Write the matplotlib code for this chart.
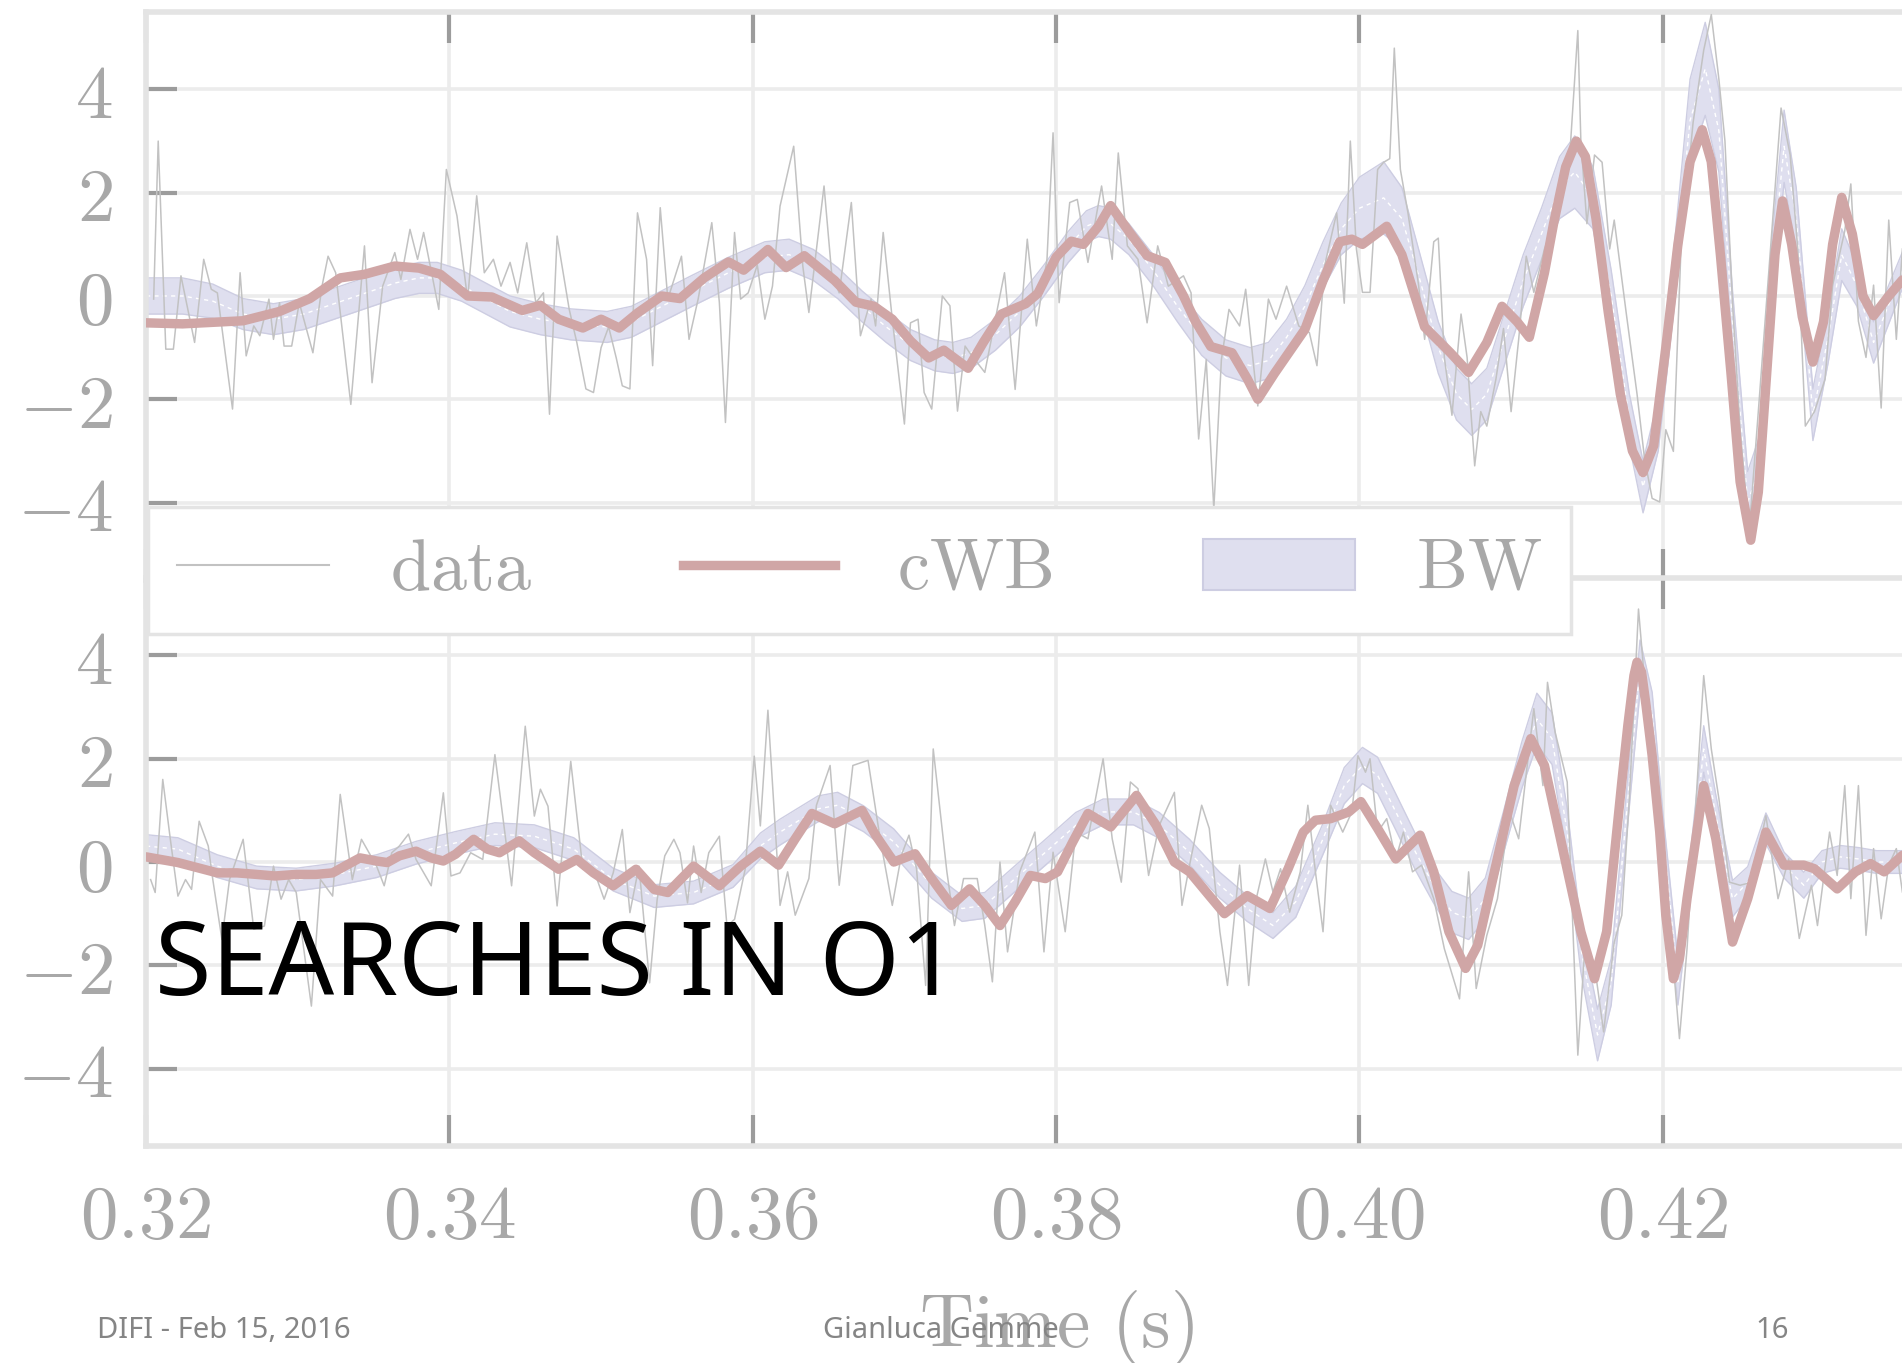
import matplotlib
matplotlib.use("Agg")
import matplotlib.pyplot as plt
from matplotlib.patches import Patch
from matplotlib.lines import Line2D

plt.rcParams["mathtext.fontset"] = "cm"

# ---------------- values ----------------
# (time [s], whitened strain) pairs

# upper detector: noisy data
top_data = [
    (0.3205, -0.06), (0.3208, 3.0), (0.3213, -1.03), (0.3218, -1.03), (0.3223, 0.39),
    (0.3232, -0.9), (0.3238, 0.71), (0.3243, 0.13), (0.3247, 0.06), (0.3257, -2.19),
    (0.3262, 0.45), (0.3266, -1.16), (0.3271, -0.58), (0.3275, -0.77), (0.3281, -0.06),
    (0.3284, -0.84), (0.3288, -0.13), (0.3291, -0.97), (0.3296, -0.97), (0.3301, -0.13),
    (0.3310, -1.10), (0.3316, 0.19), (0.3320, 0.77), (0.3325, 0.45), (0.3335, -2.10),
    (0.3344, 0.97), (0.3349, -1.68), (0.3356, 0.19), (0.3364, 0.84), (0.3368, 0.32),
    (0.3374, 1.29), (0.3379, 0.71), (0.3383, 1.23), (0.3393, -0.26), (0.3398, 2.45),
    (0.3405, 1.55), (0.3412, -0.06), (0.3418, 1.94), (0.3423, 0.45), (0.3429, 0.71),
    (0.3434, 0.19), (0.3440, 0.65), (0.3445, 0.06), (0.3451, 1.03), (0.3457, -0.13),
    (0.3462, 0.06), (0.3466, -2.29), (0.3471, 1.16), (0.3479, -0.26), (0.3484, -0.90),
    (0.3490, -1.80), (0.3495, -1.87), (0.3500, -1.0), (0.3505, -0.6), (0.3510, -1.2),
    (0.3514, -1.74), (0.3519, -1.80), (0.3524, 1.61), (0.3530, 0.71), (0.3534, -1.35),
    (0.3539, 1.71), (0.3544, -0.06), (0.3553, 0.77), (0.3558, -0.84), (0.3564, -0.06),
    (0.3573, 1.42), (0.3578, -0.13), (0.3582, -2.45), (0.3588, 1.23), (0.3592, -0.06),
    (0.3597, 0.06), (0.3603, 0.6), (0.3608, -0.45), (0.3613, 0.19), (0.3618, 1.74),
    (0.3627, 2.90), (0.3633, 0.58), (0.3637, -0.32), (0.3647, 2.13), (0.3652, 0.45),
    (0.3657, 0.06), (0.3665, 1.81), (0.3671, -0.77), (0.3678, -0.06), (0.3681, -0.58),
    (0.3686, 1.23), (0.3692, -0.45), (0.3700, -2.48), (0.3704, -0.52), (0.3709, -0.45),
    (0.3713, -1.87), (0.3718, -2.19), (0.3725, 0.0), (0.3730, -0.19), (0.3735, -2.23),
    (0.3740, -0.97), (0.3743, -1.10), (0.3753, -1.48), (0.3766, 0.45), (0.3773, -1.81),
    (0.3781, 1.10), (0.3787, -0.58), (0.3794, 0.71), (0.3798, 3.16), (0.3802, -0.13),
    (0.3809, 1.81), (0.3814, 1.87), (0.3821, 0.65), (0.3830, 2.13), (0.3837, 0.71),
    (0.3841, 2.77), (0.3847, 0.97), (0.3854, 0.71), (0.3860, -0.52), (0.3867, 0.97),
    (0.3874, 0.19), (0.3884, 0.39), (0.3889, 0.06), (0.3894, -2.77), (0.3899, -1.23),
    (0.3904, -4.13), (0.3909, -1.23), (0.3914, -0.26), (0.3921, -0.58), (0.3925, 0.13),
    (0.3933, -2.13), (0.3940, -0.06), (0.3945, -0.45), (0.3952, 0.19), (0.3960, -0.58),
    (0.3967, -0.71), (0.3972, -1.35), (0.3977, 0.58), (0.3985, 1.61), (0.3990, -0.14),
    (0.3994, 3.0), (0.3998, 0.91), (0.4002, 0.07), (0.4007, 0.07), (0.4012, 2.45),
    (0.4016, 2.59), (0.4020, 2.66), (0.4023, 4.8), (0.4027, 2.45), (0.4032, 1.61),
    (0.4039, 0.21), (0.4043, -0.84), (0.4049, 1.05), (0.4052, 1.12), (0.4056, -1.19),
    (0.4061, -2.31), (0.4067, -0.35), (0.4071, -1.19), (0.4076, -3.29), (0.4080, -2.24),
    (0.4084, -2.52), (0.4090, -1.61), (0.4095, -0.63), (0.4100, -2.24), (0.4105, -0.84),
    (0.4110, 0.77), (0.4115, 0.07), (0.4122, 0.91), (0.4132, 1.75), (0.4139, 2.87),
    (0.4144, 5.14), (0.4146, 3.0), (0.4150, 1.40), (0.4155, 2.73), (0.4160, 2.59),
    (0.4165, 0.91), (0.4168, 1.47), (0.4176, -0.35), (0.4183, -1.89), (0.4188, -3.15),
    (0.4193, -3.92), (0.4198, -3.99), (0.4202, -2.59), (0.4207, -3.01), (0.4212, 0.91),
    (0.4220, 3.36), (0.4227, 4.76), (0.4232, 5.45), (0.4237, 4.2), (0.4241, 3.0),
    (0.4246, -0.14), (0.4251, -2.59), (0.4257, -4.55), (0.4263, -2.24), (0.4271, 0.91),
    (0.4278, 3.64), (0.4284, 2.73), (0.4289, 0.91), (0.4294, -2.52), (0.4300, -2.24),
    (0.4307, -1.61), (0.4312, 0.21), (0.4320, 1.26), (0.4324, 2.17), (0.4329, -0.49),
    (0.4334, -1.19), (0.4339, 0.21), (0.4344, -2.17), (0.4349, 1.47), (0.4354, -0.84),
    (0.4358, 0.91),
]

# upper detector: cWB reconstruction
top_cwb = [
    (0.3200, -0.52), (0.3224, -0.54), (0.3264, -0.48), (0.3288, -0.30), (0.3308, -0.05),
    (0.3328, 0.35), (0.3344, 0.42), (0.3364, 0.58), (0.3380, 0.54), (0.3394, 0.42),
    (0.3412, 0.0), (0.3428, -0.02), (0.3448, -0.28), (0.3460, -0.18), (0.3472, -0.45),
    (0.3488, -0.62), (0.3500, -0.45), (0.3512, -0.62), (0.3524, -0.33), (0.3540, 0.0),
    (0.3552, -0.05), (0.3568, 0.35), (0.3584, 0.66), (0.3594, 0.5), (0.3610, 0.9),
    (0.3622, 0.55), (0.3634, 0.78), (0.3654, 0.3), (0.3668, -0.12), (0.3680, -0.2),
    (0.3692, -0.45), (0.3704, -0.87), (0.3716, -1.2), (0.3726, -1.05), (0.3742, -1.4),
    (0.3752, -0.9), (0.3764, -0.35), (0.3780, -0.15), (0.3788, 0.05), (0.3800, 0.75),
    (0.3810, 1.06), (0.3818, 1.0), (0.3828, 1.35), (0.3836, 1.75), (0.3848, 1.25),
    (0.3860, 0.78), (0.3872, 0.65), (0.3884, 0.0), (0.3892, -0.5), (0.3902, -0.98),
    (0.3916, -1.1), (0.3926, -1.6), (0.3933, -2.0), (0.3944, -1.5), (0.3964, -0.65),
    (0.3976, 0.3), (0.3987, 1.05), (0.3995, 1.1), (0.4002, 1.0), (0.4018, 1.35),
    (0.4028, 0.8), (0.4043, -0.6), (0.4060, -1.1), (0.4072, -1.48), (0.4084, -0.9),
    (0.4094, -0.2), (0.4104, -0.5), (0.4112, -0.8), (0.4122, 0.45), (0.4128, 1.4),
    (0.4136, 2.5), (0.4143, 3.0), (0.4149, 2.7), (0.4156, 1.5), (0.4164, -0.3),
    (0.4172, -1.9), (0.4180, -3.0), (0.4187, -3.42), (0.4194, -2.9), (0.4202, -1.0),
    (0.4210, 1.0), (0.4218, 2.6), (0.4226, 3.22), (0.4232, 2.6), (0.4238, 0.8),
    (0.4245, -1.5), (0.4251, -3.6), (0.4258, -4.73), (0.4263, -3.8), (0.4269, -1.3),
    (0.4274, 0.8), (0.4279, 1.84), (0.4285, 1.0), (0.4292, -0.4), (0.4299, -1.28),
    (0.4306, -0.5), (0.4312, 1.0), (0.4318, 1.91), (0.4325, 1.2), (0.4332, 0.0),
    (0.4339, -0.38), (0.4349, 0.0), (0.4358, 0.31),
]

# upper detector: BayesWave band (time, centre, half width)
top_bw = [
    (0.3200, 0.0, 0.35), (0.3224, 0.0, 0.35), (0.3244, -0.1, 0.33), (0.3264, -0.35, 0.3),
    (0.3284, -0.45, 0.3), (0.3304, -0.35, 0.3), (0.3324, -0.15, 0.3), (0.3344, 0.05, 0.3),
    (0.3364, 0.25, 0.3), (0.3380, 0.35, 0.3), (0.3392, 0.35, 0.3), (0.3408, 0.2, 0.3),
    (0.3424, -0.05, 0.3), (0.3440, -0.3, 0.3), (0.3460, -0.45, 0.3), (0.3480, -0.55, 0.3),
    (0.3504, -0.6, 0.3), (0.3520, -0.5, 0.3), (0.3540, -0.2, 0.3), (0.3560, 0.1, 0.3),
    (0.3584, 0.45, 0.3), (0.3608, 0.75, 0.3), (0.3624, 0.8, 0.3), (0.3640, 0.6, 0.3),
    (0.3656, 0.25, 0.3), (0.3672, -0.2, 0.3), (0.3688, -0.6, 0.3), (0.3704, -0.95, 0.3),
    (0.3720, -1.15, 0.3), (0.3732, -1.2, 0.3), (0.3744, -1.1, 0.3), (0.3760, -0.75, 0.3),
    (0.3776, -0.3, 0.3), (0.3792, 0.3, 0.3), (0.3808, 0.95, 0.3), (0.3820, 1.35, 0.3),
    (0.3828, 1.45, 0.3), (0.3836, 1.4, 0.3), (0.3848, 1.1, 0.3), (0.3864, 0.5, 0.3),
    (0.3880, -0.2, 0.3), (0.3896, -0.8, 0.35), (0.3912, -1.2, 0.35), (0.3928, -1.35, 0.35),
    (0.3940, -1.25, 0.35), (0.3952, -0.8, 0.35), (0.3964, -0.2, 0.4), (0.3976, 0.6, 0.45),
    (0.3988, 1.3, 0.5), (0.4000, 1.7, 0.6), (0.4016, 1.9, 0.7), (0.4028, 1.5, 0.6),
    (0.4040, 0.3, 0.5), (0.4052, -1.0, 0.5), (0.4064, -1.9, 0.5), (0.4074, -2.2, 0.5),
    (0.4084, -1.9, 0.5), (0.4096, -0.8, 0.5), (0.4108, 0.3, 0.5), (0.4120, 1.2, 0.5),
    (0.4132, 2.1, 0.6), (0.4142, 2.4, 0.7), (0.4154, 1.9, 0.6), (0.4166, 0.0, 0.5),
    (0.4178, -2.4, 0.5), (0.4187, -3.7, 0.5), (0.4197, -2.5, 0.5), (0.4208, 0.5, 0.6),
    (0.4218, 3.4, 0.8), (0.4228, 4.4, 0.9), (0.4237, 3.2, 0.8), (0.4246, -0.5, 0.6),
    (0.4256, -4.0, 0.6), (0.4264, -3.3, 0.6), (0.4272, 0.5, 0.6), (0.4280, 2.9, 0.7),
    (0.4288, 1.5, 0.6), (0.4299, -2.3, 0.5), (0.4309, -0.8, 0.5), (0.4318, 0.8, 0.5),
    (0.4328, 0.2, 0.4), (0.4339, -0.9, 0.4), (0.4358, 0.5, 0.35),
]

# lower detector: noisy data
bot_data = [
    (0.3203, -0.34), (0.3206, -0.59), (0.3211, 1.6), (0.3216, 0.44), (0.3221, -0.66),
    (0.3226, -0.34), (0.3230, -0.53), (0.3235, 0.79), (0.3241, 0.31), (0.3244, -0.34),
    (0.3250, -1.5), (0.3255, -0.34), (0.3264, 0.44), (0.3271, -1.3), (0.3278, -1.24),
    (0.3284, -0.08), (0.3289, -0.72), (0.3294, -0.34), (0.3299, -0.59), (0.3309, -2.79),
    (0.3315, -0.34), (0.3323, -0.66), (0.3328, 1.31), (0.3336, -0.34), (0.3342, 0.44),
    (0.3352, -0.08), (0.3357, -0.46), (0.3362, 0.18), (0.3367, 0.31), (0.3373, 0.54),
    (0.3378, 0.05), (0.3388, -0.46), (0.3396, 1.34), (0.3401, -0.27), (0.3407, -0.21),
    (0.3414, 0.18), (0.3422, 0.05), (0.3430, 2.08), (0.3441, -0.46), (0.3450, 2.63),
    (0.3456, 0.89), (0.3460, 1.41), (0.3465, 1.08), (0.3471, -0.85), (0.3480, 1.95),
    (0.3488, -0.14), (0.3495, -0.14), (0.3502, -0.72), (0.3508, -0.21), (0.3514, 0.63),
    (0.3519, -0.98), (0.3525, -0.08), (0.3532, -2.34), (0.3537, -0.72), (0.3542, 0.12),
    (0.3548, 0.44), (0.3552, 0.18), (0.3557, -0.79), (0.3561, 0.31), (0.3566, -0.59),
    (0.3571, 0.18), (0.3578, 0.5), (0.3583, -1.24), (0.3588, -1.11), (0.3595, -0.14),
    (0.3601, 2.05), (0.3605, 0.70), (0.3610, 2.94), (0.3618, -0.84), (0.3623, -0.19),
    (0.3628, -1.03), (0.3637, -0.32), (0.3642, 1.10), (0.3651, 1.87), (0.3657, -0.45),
    (0.3666, 1.87), (0.3676, 1.97), (0.3684, 0.45), (0.3692, -0.84), (0.3698, 0.13),
    (0.3703, 0.52), (0.3708, -0.13), (0.3714, -2.39), (0.3719, 2.19), (0.3728, -0.19),
    (0.3733, -1.23), (0.3739, -0.32), (0.3748, -0.32), (0.3753, -1.23), (0.3758, -2.32),
    (0.3763, 0.0), (0.3768, -1.74), (0.3776, -0.19), (0.3786, 0.58), (0.3792, -1.74),
    (0.3798, 0.19), (0.3806, -1.35), (0.3813, 0.58), (0.3821, 0.45), (0.3831, 2.0),
    (0.3837, 0.45), (0.3843, -0.39), (0.3849, 1.55), (0.3854, 1.42), (0.3861, -0.26),
    (0.3868, 0.71), (0.3878, 1.35), (0.3883, -0.84), (0.3888, -0.06), (0.3896, 1.10),
    (0.3901, 0.65), (0.3908, -1.35), (0.3913, -2.39), (0.3921, -0.06), (0.3927, -2.39),
    (0.3932, -0.71), (0.3938, 0.06), (0.3943, -0.58), (0.3948, -0.13), (0.3954, -0.97),
    (0.3961, -0.19), (0.3966, 1.10), (0.3971, -0.19), (0.3976, -1.35), (0.3981, 1.10),
    (0.3989, 0.58), (0.3995, 0.97), (0.3999, 2.06), (0.4004, 1.74), (0.4007, 2.0),
    (0.4012, 0.58), (0.4018, 0.84), (0.4024, 0.06), (0.4029, 0.58), (0.4035, -0.19),
    (0.4041, -0.06), (0.4049, -0.71), (0.4056, -1.68), (0.4066, -2.65), (0.4072, -0.19),
    (0.4077, -2.45), (0.4084, -1.42), (0.4091, -0.71), (0.4099, 0.97), (0.4105, 0.45),
    (0.4115, 2.97), (0.4121, 1.48), (0.4124, 3.48), (0.4129, 2.52), (0.4137, 1.55),
    (0.4144, -3.74), (0.4149, -1.48), (0.4155, -2.0), (0.4161, -3.29), (0.4168, -1.55),
    (0.4173, -1.03), (0.4178, 1.23), (0.4184, 4.9), (0.4189, 3.16), (0.4195, 1.87),
    (0.4200, -0.71), (0.4207, -2.0), (0.4211, -3.42), (0.4216, -1.68), (0.4227, 3.61),
    (0.4232, 2.19), (0.4237, 1.23), (0.4244, -0.39), (0.4251, -0.45), (0.4259, -0.39),
    (0.4268, 0.90), (0.4276, -0.71), (0.4283, 0.06), (0.4290, -1.48), (0.4298, -0.45),
    (0.4302, -1.23), (0.4310, 0.58), (0.4315, -0.26), (0.4320, 1.48), (0.4324, -0.71),
    (0.4329, 1.48), (0.4334, -1.42), (0.4339, 0.26), (0.4344, -1.10), (0.4349, -0.06),
    (0.4354, 0.26), (0.4358, -0.58),
]

# lower detector: cWB reconstruction
bot_cwb = [
    (0.3200, 0.1), (0.3221, -0.01), (0.3234, -0.11), (0.3247, -0.21), (0.3260, -0.21),
    (0.3273, -0.24), (0.3285, -0.27), (0.3299, -0.24), (0.3312, -0.24), (0.3323, -0.21),
    (0.3331, -0.08), (0.3341, 0.08), (0.3352, 0.02), (0.3359, -0.01), (0.3367, 0.12),
    (0.3378, 0.21), (0.3388, 0.08), (0.3396, 0.02), (0.3404, 0.15), (0.3416, 0.44),
    (0.3425, 0.25), (0.3433, 0.18), (0.3446, 0.41), (0.3456, 0.18), (0.3472, -0.14),
    (0.3484, 0.05), (0.3495, -0.21), (0.3508, -0.46), (0.3523, -0.14), (0.3535, -0.53),
    (0.3544, -0.59), (0.3561, -0.08), (0.3578, -0.46), (0.3592, -0.08), (0.3605, 0.21),
    (0.3617, -0.06), (0.3628, 0.45), (0.3639, 0.94), (0.3654, 0.74), (0.3672, 1.0),
    (0.3681, 0.52), (0.3693, 0.0), (0.3707, 0.16), (0.3718, -0.32), (0.3731, -0.84),
    (0.3743, -0.52), (0.3753, -0.84), (0.3763, -1.23), (0.3773, -0.77), (0.3783, -0.26),
    (0.3793, -0.32), (0.3801, -0.19), (0.3811, 0.39), (0.3821, 0.94), (0.3836, 0.68),
    (0.3853, 1.29), (0.3866, 0.71), (0.3878, 0.0), (0.3888, -0.19), (0.3901, -0.65),
    (0.3911, -1.0), (0.3926, -0.65), (0.3941, -0.9), (0.3953, -0.13), (0.3963, 0.58),
    (0.3971, 0.81), (0.3981, 0.84), (0.3993, 0.97), (0.4001, 1.17), (0.4012, 0.65),
    (0.4024, 0.06), (0.4033, 0.32), (0.4040, 0.52), (0.4049, -0.19), (0.4059, -1.35),
    (0.4070, -2.06), (0.4078, -1.61), (0.4090, -0.06), (0.4102, 1.48), (0.4113, 2.39),
    (0.4122, 1.87), (0.4134, 0.26), (0.4146, -1.35), (0.4155, -2.26), (0.4163, -1.35),
    (0.4173, 1.55), (0.4177, 2.65), (0.4181, 3.61), (0.4183, 3.87), (0.4186, 3.68),
    (0.4189, 3.03), (0.4193, 2.06), (0.4198, 0.58), (0.4202, -1.03), (0.4207, -2.26),
    (0.4211, -1.87), (0.4216, -0.71), (0.4227, 1.48), (0.4235, 0.45), (0.4246, -1.55),
    (0.4256, -0.71), (0.4268, 0.58), (0.4280, -0.06), (0.4293, -0.06), (0.4300, -0.13),
    (0.4315, -0.52), (0.4327, -0.19), (0.4337, -0.03), (0.4346, -0.19), (0.4358, 0.13),
]

# lower detector: BayesWave band (time, centre, half width)
bot_bw = [
    (0.3200, 0.31, 0.22), (0.3221, 0.25, 0.22), (0.3247, -0.08, 0.22), (0.3273, -0.3, 0.22),
    (0.3299, -0.34, 0.22), (0.3325, -0.24, 0.22), (0.3352, -0.08, 0.22), (0.3378, 0.18, 0.22),
    (0.3404, 0.37, 0.22), (0.3430, 0.54, 0.22), (0.3456, 0.5, 0.22), (0.3482, 0.25, 0.22),
    (0.3508, -0.34, 0.22), (0.3535, -0.66, 0.22), (0.3561, -0.59, 0.22), (0.3587, -0.27, 0.22),
    (0.3605, 0.31, 0.25), (0.3618, 0.58, 0.25), (0.3643, 1.03, 0.25), (0.3656, 1.1, 0.25),
    (0.3673, 0.84, 0.25), (0.3693, 0.39, 0.25), (0.3718, -0.45, 0.25), (0.3738, -0.9, 0.25),
    (0.3753, -0.84, 0.25), (0.3773, -0.32, 0.25), (0.3793, 0.19, 0.25), (0.3813, 0.71, 0.25),
    (0.3831, 0.97, 0.25), (0.3851, 0.97, 0.25), (0.3868, 0.71, 0.25), (0.3888, 0.19, 0.25),
    (0.3908, -0.45, 0.25), (0.3926, -0.9, 0.25), (0.3943, -1.23, 0.25), (0.3958, -0.77, 0.3),
    (0.3976, 0.45, 0.3), (0.3990, 1.48, 0.35), (0.4002, 1.87, 0.35), (0.4012, 1.68, 0.35),
    (0.4024, 0.97, 0.35), (0.4037, 0.19, 0.35), (0.4049, -0.45, 0.35), (0.4061, -0.97, 0.4),
    (0.4072, -1.1, 0.4), (0.4083, -0.71, 0.4), (0.4095, 0.58, 0.4), (0.4107, 1.87, 0.45),
    (0.4117, 2.77, 0.5), (0.4127, 2.39, 0.5), (0.4137, 0.58, 0.45), (0.4146, -1.68, 0.45),
    (0.4157, -3.35, 0.5), (0.4166, -2.32, 0.45), (0.4176, 0.9, 0.45), (0.4185, 3.8, 0.5),
    (0.4193, 2.84, 0.45), (0.4200, 0.58, 0.4), (0.4210, -2.32, 0.45), (0.4218, -0.3, 0.4),
    (0.4227, 2.19, 0.45), (0.4235, 0.9, 0.4), (0.4246, -0.71, 0.35), (0.4256, -0.39, 0.3),
    (0.4268, 0.65, 0.3), (0.4280, -0.06, 0.25), (0.4293, -0.45, 0.25), (0.4305, 0.0, 0.22),
    (0.4317, 0.1, 0.22), (0.4329, 0.06, 0.22), (0.4341, 0.0, 0.22), (0.4358, 0.0, 0.22),
]

xticks = [0.32, 0.34, 0.36, 0.38, 0.40, 0.42, 0.44]
xtick_labels = ["$0.32$", "$0.34$", "$0.36$", "$0.38$", "$0.40$", "$0.42$", "$0.44$"]
yticks = [-4, -2, 0, 2, 4]
ytick_labels = ["$-4$", "$-2$", "$0$", "$2$", "$4$"]
legend_labels = ["$\\mathrm{data}$", "$\\mathrm{cWB}$", "$\\mathrm{BW}$"]

# ---------------- styling ----------------
data_color = "#c2c2c2"
cwb_color = "#d0a6a6"
bw_color = "#dfdfef"
bw_edge = "#cdcde2"
text_gray = "#a8a8a8"
tick_gray = "#9c9c9c"
frame_gray = "#e4e4e4"
grid_gray = "#ececec"

fig = plt.figure(figsize=(19.02, 13.63), dpi=100)
ax1 = fig.add_axes([0.0768, 0.5745, 0.9569, 0.4167])
ax2 = fig.add_axes([0.0768, 0.1592, 0.9569, 0.4167])


def draw_panel(ax, data, cwb, bw):
    t_bw = [p[0] for p in bw]
    lo = [p[1] - p[2] for p in bw]
    hi = [p[1] + p[2] for p in bw]
    mid = [p[1] for p in bw]
    ax.fill_between(t_bw, lo, hi, color=bw_color, lw=0, zorder=2)
    ax.plot(t_bw, lo, color=bw_edge, lw=1.0, zorder=2)
    ax.plot(t_bw, hi, color=bw_edge, lw=1.0, zorder=2)
    ax.plot(t_bw, mid, color="white", lw=1.0, ls=(0, (3, 3)), zorder=2)
    ax.plot([p[0] for p in data], [p[1] for p in data], color=data_color, lw=1.1, zorder=3)
    ax.plot([p[0] for p in cwb], [p[1] for p in cwb], color=cwb_color, lw=6.8,
            solid_joinstyle="round", solid_capstyle="round", zorder=4)

    ax.set_xlim(0.32, 0.44)
    ax.set_ylim(-5.5, 5.5)
    ax.set_xticks(xticks, labels=xtick_labels)
    ax.set_yticks(yticks, labels=ytick_labels)
    ax.grid(True, color=grid_gray, lw=2.6)
    ax.set_axisbelow(True)
    ax.tick_params(direction="in", length=22, width=3, color=tick_gray,
                   top=True, bottom=True, left=True, right=False,
                   labelsize=54, labelcolor=text_gray)
    ax.tick_params(axis="x", pad=25)
    ax.tick_params(axis="y", pad=24)
    for s in ax.spines.values():
        s.set_color(frame_gray)
        s.set_linewidth(4)


draw_panel(ax1, top_data, top_cwb, top_bw)
draw_panel(ax2, bot_data, bot_cwb, bot_bw)
ax1.tick_params(labelbottom=False)
ax2.set_xlabel("$\\mathrm{Time\\ (s)}$", fontsize=54, color=text_gray, labelpad=25)

handles = [
    Line2D([], [], color=data_color, lw=1.5),
    Line2D([], [], color=cwb_color, lw=6.8),
    Patch(facecolor=bw_color, edgecolor=bw_edge, lw=1.5),
]
leg = fig.legend(handles, legend_labels, loc="upper left", bbox_to_anchor=(0.0778, 0.628),
                 ncol=3, fontsize=52, frameon=True, fancybox=False, framealpha=1,
                 borderaxespad=0, handlelength=2.1, handletextpad=0.85, columnspacing=2.1)
leg.get_frame().set_edgecolor(frame_gray)
leg.get_frame().set_linewidth(2.5)
for txt in leg.get_texts():
    txt.set_color(text_gray)

# slide overlay text
slide_font = ["Noto Sans", "DejaVu Sans"]
fig.text(0.0815, 1 - 995 / 1363, "SEARCHES IN O1", fontsize=74, color="black",
         family=slide_font, fontweight="light", ha="left", va="baseline")
foot_y = 1 - 1338 / 1363
fig.text(0.051, foot_y, "DIFI - Feb 15, 2016", fontsize=21, color="#858585",
         family=slide_font, ha="left", va="baseline")
fig.text(0.4947, foot_y, "Gianluca Gemme", fontsize=21, color="#858585",
         family=slide_font, ha="center", va="baseline")
fig.text(0.9317, foot_y, "16", fontsize=21, color="#858585",
         family=slide_font, ha="center", va="baseline")

fig.savefig("out.png", dpi=100, facecolor="white")
